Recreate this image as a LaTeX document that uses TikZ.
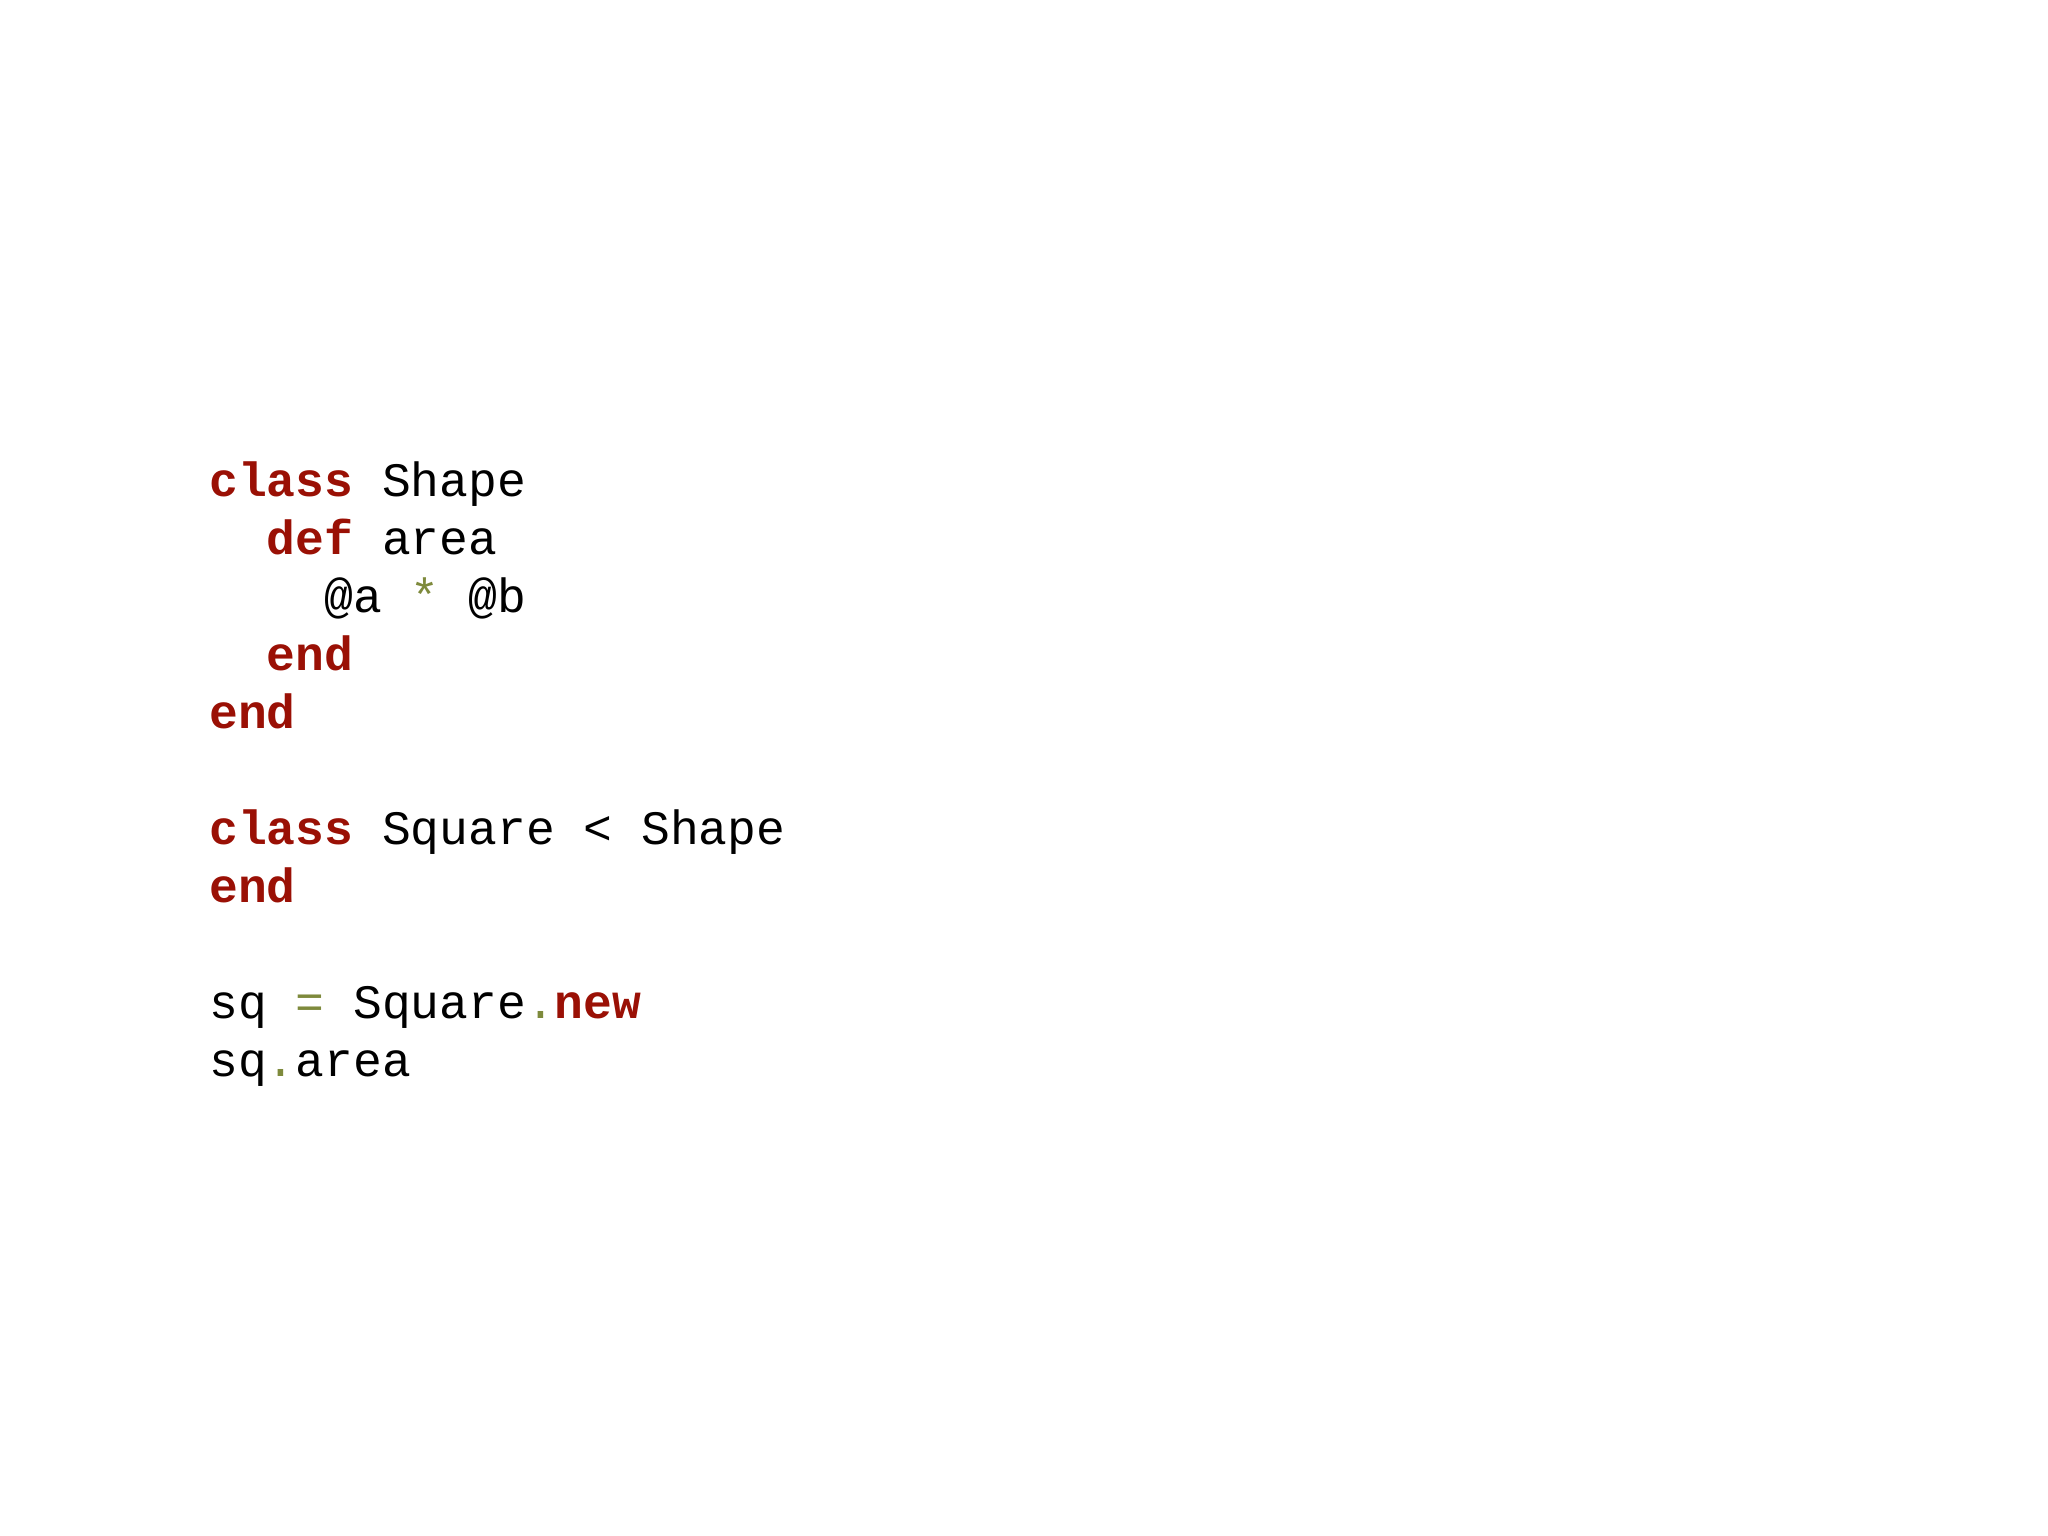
\documentclass[tikz,border=0pt]{standalone}
\usepackage{fontspec}
\setmonofont{Liberation Mono}
\definecolor{kw}{HTML}{9A1005}
\definecolor{op}{HTML}{7E8A3C}
\newcommand{\kw}[1]{\textcolor{kw}{\bfseries #1}}
\newcommand{\op}[1]{\textcolor{op}{#1}}
\begin{document}
\begin{tikzpicture}[x=1pt,y=1pt,
  codeline/.style={anchor=base west,inner sep=0pt,font=\fontsize{48}{58}\selectfont\ttfamily}]
\useasboundingbox[fill=white] (0,0) rectangle (2048,-1536);
\def\lx{209}
\def\ly{-496}
\def\ls{58}
\node[codeline] (l1) at (\lx,\ly) {\kw{class} Shape};
\node[codeline] (l2) at (\lx,\ly-\ls) {\phantom{xx}\kw{def} area};
\node[codeline] (l3) at (\lx,\ly-2*\ls) {\phantom{xxxx}@a \op{*} @b};
\node[codeline] (l4) at (\lx,\ly-3*\ls) {\phantom{xx}\kw{end}};
\node[codeline] (l5) at (\lx,\ly-4*\ls) {\kw{end}};
\node[codeline] (l7) at (\lx,\ly-6*\ls) {\kw{class} Square < Shape};
\node[codeline] (l8) at (\lx,\ly-7*\ls) {\kw{end}};
\node[codeline] (l10) at (\lx,\ly-9*\ls) {sq \op{=} Square\op{.}\kw{new}};
\node[codeline] (l11) at (\lx,\ly-10*\ls) {sq\op{.}area};
\end{tikzpicture}
\end{document}
